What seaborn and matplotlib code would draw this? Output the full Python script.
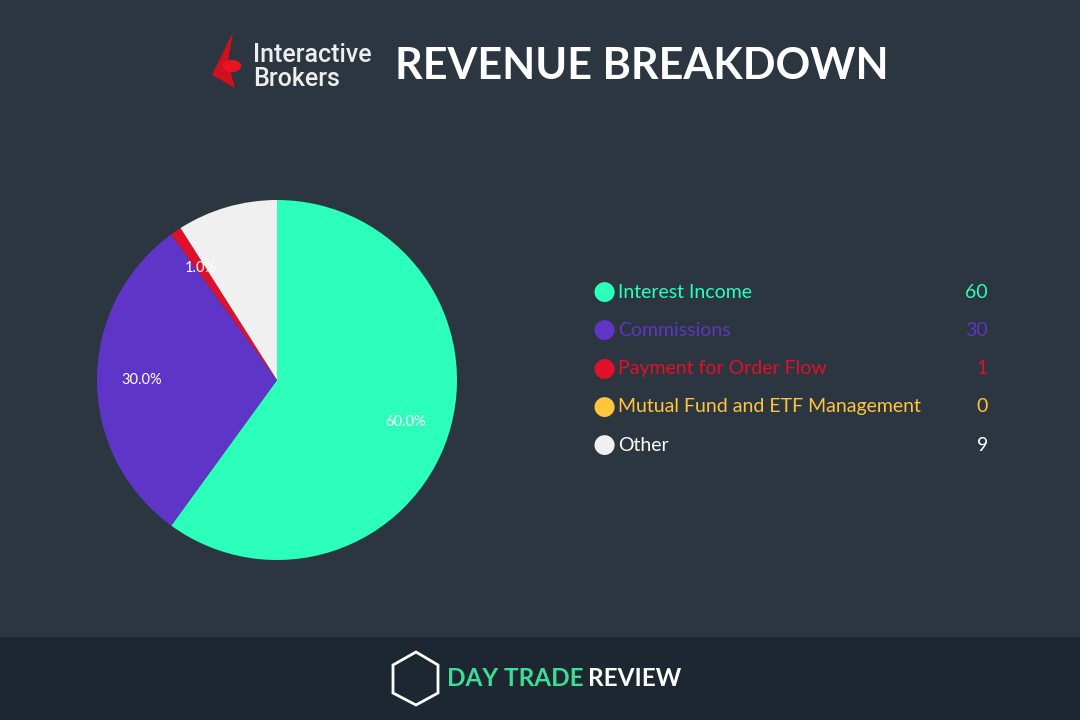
import matplotlib
matplotlib.use("Agg")
import matplotlib.pyplot as plt
import seaborn as sns
from matplotlib.patches import Polygon, Circle

categories = ["Interest Income", "Commissions", "Payment for Order Flow",
              "Mutual Fund and ETF Management", "Other"]
values = [60, 30, 1, 0, 9]
colors = ["#2bffb9", "#5f35c8", "#e0102a", "#ffc53b", "#f0f0f0"]

BG = "#2b3640"
FOOT = "#1d2731"

sns.set_theme(style="dark")
plt.rcParams['font.family'] = ['Lato', 'DejaVu Sans']

fig = plt.figure(figsize=(10.8, 7.2), dpi=100, facecolor=BG)
W, H = 1080, 720
def fx(x): return x / W
def fy(y): return 1 - y / H

# footer band
fig.patches.append(plt.Rectangle((0, 0), 1, fy(637), transform=fig.transFigure,
                                 facecolor=FOOT, edgecolor="none", zorder=0))

# pie
ax = fig.add_axes([fx(97), fy(560), fx(360), 360 / H])
ax.set_facecolor(BG)
def fmt(p):
    return f"{p:.1f}%" if p >= 0.5 else ""
wedges, texts, autotexts = ax.pie(values, colors=colors, startangle=90, counterclock=False,
                                  autopct=fmt, pctdistance=0.75,
                                  wedgeprops=dict(linewidth=0),
                                  textprops=dict(color="white", fontsize=10.5))
autotexts[4].set_color(colors[4])  # white label on white slice, as in the original
ax.set_xlim(-1, 1)
ax.set_ylim(-1, 1)
ax.set_aspect("equal")
ax.axis("off")

# legend
for i, (c, v, col) in enumerate(zip(categories, values, colors)):
    y = 292 + i * 38.3
    fig.text(fx(604), fy(y), "●", color=col, fontsize=19, ha="center", va="center",
             family=['DejaVu Sans'])
    tc = col if col != "#f0f0f0" else "white"
    fig.text(fx(618), fy(y), c, color=tc, fontsize=14, ha="left", va="center")
    fig.text(fx(988), fy(y), str(v), color=tc, fontsize=14, ha="right", va="center")

# title
fig.text(fx(395), fy(66), "REVENUE BREAKDOWN", color="white", fontsize=31,
         fontweight="bold", ha="left", va="center")
# IB logo
fig.patches.append(Polygon([(fx(233), fy(32)), (fx(212), fy(75)), (fx(235), fy(88)),
                            (fx(228), fy(62))], closed=True, transform=fig.transFigure,
                           facecolor="#d0101e", edgecolor="none"))
fig.patches.append(Circle((fx(232), fy(66)), 0.0085, transform=fig.transFigure,
                          facecolor="#e8141f", edgecolor="none"))
fig.text(fx(253), fy(55), "Interactive", color="#eeeeee", fontsize=18, ha="left", va="center",
         fontweight="medium", family=['Roboto', 'DejaVu Sans'])
fig.text(fx(253), fy(79), "Brokers", color="#eeeeee", fontsize=18, ha="left", va="center",
         fontweight="medium", family=['Roboto', 'DejaVu Sans'])

# footer logo
hexpts = [(393, 665), (416, 652), (438, 665), (438, 693), (416, 705), (393, 693)]
fig.patches.append(Polygon([(fx(x), fy(y)) for x, y in hexpts], closed=True,
                           transform=fig.transFigure, facecolor="none",
                           edgecolor="white", linewidth=2))
fig.text(fx(447), fy(678), "DAY TRADE", color="#3ddc97", fontsize=17.5, fontweight="bold",
         ha="left", va="center")
fig.text(fx(588), fy(678), "REVIEW", color="white", fontsize=17.5, fontweight="bold",
         ha="left", va="center")

fig.savefig("out.png", dpi=100, facecolor=BG)
